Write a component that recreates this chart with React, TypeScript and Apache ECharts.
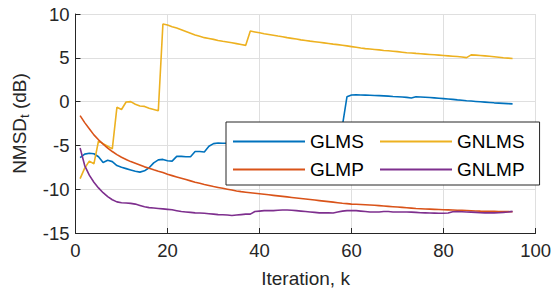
import React, { useEffect, useRef } from "react";
import * as echarts from "echarts";

const seriesNames = ["GLMS", "GNLMS", "GLMP", "GNLMP"];
const colors = ["#0072BD", "#EDB120", "#D95319", "#7E2F8E"];

const xTicks = [0, 20, 40, 60, 80, 100];
const yTicks = [-15, -10, -5, 0, 5, 10];

// iteration index k = 1..95
const iterations = Array.from({ length: 95 }, (_, i) => i + 1);

const glms = [
  -6.4, -6.0, -5.9, -5.95, -6.3, -6.95, -6.7, -6.85, -7.3, -7.5,
  -7.65, -7.8, -7.95, -8.05, -7.9, -7.55, -7.0, -6.65, -6.6, -6.75,
  -6.8, -6.25, -6.25, -6.3, -6.3, -5.7, -5.7, -5.75, -5.1, -4.8,
  -4.72, -4.75, -4.75, -4.7, -4.6, -4.5, -4.5, -4.4, -4.3, -4.2,
  -4.1, -4.0, -4.0, -3.9, -3.8, -3.7, -3.7, -3.6, -3.5, -3.4,
  -3.4, -3.3, -3.2, -3.1, -3.0, -3.0, -2.9, -2.8, 0.55, 0.75,
  0.78, 0.76, 0.74, 0.72, 0.7, 0.68, 0.65, 0.62, 0.58, 0.55,
  0.52, 0.48, 0.42, 0.56, 0.53, 0.5, 0.46, 0.42, 0.38, 0.34,
  0.3, 0.25, 0.2, 0.16, 0.1, 0.06, 0.02, -0.02, -0.06, -0.1,
  -0.14, -0.17, -0.2, -0.23, -0.26,
];

const gnlms = [
  -8.8, -7.6, -6.8, -7.1, -4.5, -4.8, -5.1, -5.4, -0.65, -0.9,
  -0.05, 0.0, -0.3, -0.5, -0.55, -0.75, -0.9, -1.05, 8.85, 8.75,
  8.55, 8.4, 8.2, 8.0, 7.8, 7.6, 7.45, 7.3, 7.2, 7.1,
  6.98, 6.88, 6.8, 6.72, 6.62, 6.52, 6.42, 8.05, 7.95, 7.85,
  7.75, 7.66, 7.57, 7.48, 7.4, 7.3, 7.22, 7.14, 7.05, 6.98,
  6.9, 6.84, 6.77, 6.7, 6.63, 6.56, 6.5, 6.43, 6.36, 6.28,
  6.2, 6.12, 6.05, 6.0, 5.95, 5.9, 5.84, 5.8, 5.75, 5.7,
  5.64, 5.58, 5.55, 5.5, 5.46, 5.42, 5.38, 5.34, 5.3, 5.26,
  5.22, 5.18, 5.14, 5.1, 5.02, 5.33, 5.3, 5.26, 5.22, 5.17,
  5.12, 5.06, 5.0, 4.96, 4.92,
];

const glmp = [
  -1.6, -2.4, -3.1, -3.8, -4.35, -4.85, -5.3, -5.7, -6.05, -6.35,
  -6.6, -6.85, -7.05, -7.25, -7.45, -7.6, -7.78, -7.95, -8.1, -8.3,
  -8.45, -8.6, -8.75, -8.9, -9.05, -9.2, -9.33, -9.46, -9.58, -9.7,
  -9.8, -9.9, -10.0, -10.1, -10.2, -10.28, -10.34, -10.4, -10.46, -10.52,
  -10.58, -10.64, -10.7, -10.76, -10.82, -10.88, -10.94, -11.0, -11.06, -11.12,
  -11.18, -11.24, -11.3, -11.36, -11.42, -11.48, -11.54, -11.6, -11.65, -11.7,
  -11.72, -11.74, -11.77, -11.8, -11.84, -11.88, -11.92, -11.96, -12.0, -12.04,
  -12.08, -12.12, -12.16, -12.2, -12.23, -12.26, -12.28, -12.3, -12.32, -12.34,
  -12.36, -12.38, -12.4, -12.42, -12.44, -12.46, -12.48, -12.5, -12.51, -12.52,
  -12.53, -12.54, -12.55, -12.56, -12.57,
];

const gnlmp = [
  -5.3, -7.3, -8.4, -9.2, -9.85, -10.4, -10.85, -11.2, -11.45, -11.55,
  -11.58, -11.62, -11.7, -11.85, -12.0, -12.1, -12.15, -12.2, -12.25, -12.3,
  -12.35, -12.45, -12.55, -12.6, -12.65, -12.7, -12.72, -12.75, -12.8, -12.85,
  -12.9, -12.92, -12.95, -13.0, -12.95, -12.9, -12.85, -12.85, -12.55, -12.5,
  -12.45, -12.45, -12.45, -12.4, -12.38, -12.38, -12.4, -12.45, -12.5, -12.55,
  -12.6, -12.65, -12.7, -12.7, -12.7, -12.72, -12.6, -12.5, -12.45, -12.45,
  -12.45, -12.5, -12.55, -12.6, -12.6, -12.6, -12.55, -12.55, -12.6, -12.6,
  -12.6, -12.6, -12.62, -12.65, -12.68, -12.7, -12.72, -12.73, -12.75, -12.75,
  -12.72, -12.58, -12.56, -12.58, -12.6, -12.62, -12.65, -12.68, -12.7, -12.7,
  -12.7, -12.68, -12.65, -12.6, -12.53,
];

const seriesValues = [glms, gnlms, glmp, gnlmp];

const FONT = "'Liberation Sans', Arial, Helvetica, sans-serif";
const TXT = "#262626";

export default function App() {
  const ref = useRef<HTMLDivElement>(null);
  useEffect(() => {
    if (!ref.current) return;
    const chart = echarts.init(ref.current, undefined, { renderer: "svg" });
    chart.setOption({
      animation: false,
      backgroundColor: "#ffffff",
      textStyle: { fontFamily: FONT },
      grid: { left: 68, right: 17, top: 14, bottom: 55, containLabel: false },
      legend: {
        data: seriesNames,
        selectedMode: false,
        left: 226,
        top: 122,
        width: 320,
        orient: "horizontal",
        icon: "rect",
        itemWidth: 72,
        itemHeight: 2,
        itemGap: 9,
        padding: [10, 15, 6, 7],
        backgroundColor: "#ffffff",
        borderColor: TXT,
        borderWidth: 1,
        borderRadius: 0,
        textStyle: { fontSize: 19, lineHeight: 17, color: "#000000", fontFamily: FONT, width: 61 },
      },
      xAxis: {
        type: "value",
        min: xTicks[0],
        max: xTicks[xTicks.length - 1],
        interval: 20,
        name: "Iteration, k",
        nameLocation: "middle",
        nameGap: 36,
        nameTextStyle: { fontSize: 19, color: TXT, fontFamily: FONT },
        axisLine: { show: true, onZero: false, lineStyle: { color: TXT, width: 1 } },
        axisTick: { show: true, inside: true, length: 5, lineStyle: { color: TXT } },
        axisLabel: { fontSize: 18.5, color: TXT, margin: 8, fontFamily: FONT },
        splitLine: { show: true, lineStyle: { color: "#dfdfdf", width: 1 } },
      },
      yAxis: {
        type: "value",
        min: yTicks[0],
        max: yTicks[yTicks.length - 1],
        interval: 5,
        name: "{a|NMSD}{b|t}{a| (dB)}",
        nameLocation: "middle",
        nameRotate: 90,
        nameGap: 45,
        nameTextStyle: {
          fontFamily: FONT,
          color: TXT,
          rich: {
            a: { fontSize: 19, color: TXT, fontFamily: FONT, lineHeight: 22 },
            b: { fontSize: 13, color: TXT, fontFamily: FONT, lineHeight: 13, padding: [10, 0, 0, 0] },
          },
        },
        axisLine: { show: true, onZero: false, lineStyle: { color: TXT, width: 1 } },
        axisTick: { show: true, inside: true, length: 5, lineStyle: { color: TXT } },
        axisLabel: { fontSize: 18.5, color: TXT, margin: 6, fontFamily: FONT },
        splitLine: { show: true, lineStyle: { color: "#dfdfdf", width: 1 } },
      },
      series: seriesNames.map((name, si) => ({
        name,
        type: "line",
        symbol: "none",
        showSymbol: false,
        color: colors[si],
        lineStyle: { color: colors[si], width: 1.6 },
        data: iterations.map((k, i) => [k, seriesValues[si][i]]),
        z: 2 + si * 0.01,
      })),
    });
    return () => chart.dispose();
  }, []);
  return (
    <div
      ref={ref}
      style={{ position: "absolute", left: 0, top: 0, width: 554, height: 293 }}
    />
  );
}
